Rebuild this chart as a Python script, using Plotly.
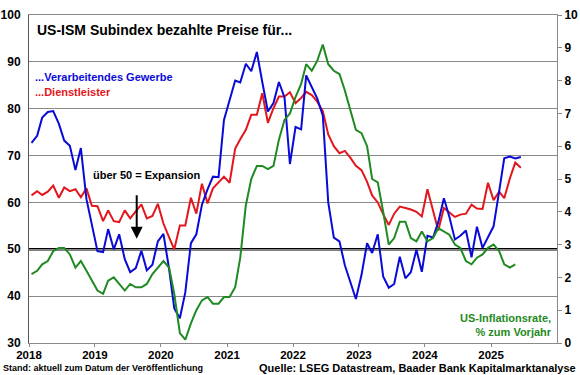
import pandas as pd
import plotly.graph_objects as go

# ---------------- data ----------------
months_ism = pd.date_range("2018-01-01", periods=90, freq="MS") + pd.Timedelta(days=14)
months_cpi = months_ism[:89]

ism_manufacturing = [
    72.7, 74.2, 78.1, 79.3, 79.5, 76.8, 73.2, 72.1, 66.9, 71.6, 60.7, 54.9,
    49.6, 49.4, 54.3, 50.0, 53.2, 47.9, 45.1, 46.0, 49.7, 45.5, 46.7, 51.7,
    53.3, 45.9, 37.4, 35.3, 40.8, 51.3, 53.2, 59.5, 62.8, 65.5, 65.4, 77.6,
    82.1, 86.0, 85.6, 89.6, 88.0, 92.1, 85.7, 79.4, 81.2, 85.7, 82.4, 68.2,
    76.1, 75.6, 87.1, 84.6, 82.2, 78.5, 60.0, 52.5, 51.7, 46.6, 43.0, 39.4,
    44.5, 51.3, 49.2, 53.2, 44.2, 41.8, 42.6, 48.4, 43.8, 45.1, 49.9, 45.2,
    52.9, 52.5, 55.8, 60.9, 57.0, 52.1, 52.9, 54.0, 48.3, 54.8, 50.3, 52.5,
    54.9, 62.4, 69.4, 69.8, 69.4, 69.7,
]

ism_services = [
    61.5, 62.4, 61.6, 62.3, 63.6, 61.0, 63.2, 62.4, 62.8, 61.1, 63.0, 59.3,
    59.2, 56.0, 58.3, 56.0, 55.8, 58.3, 56.6, 58.0, 59.6, 56.6, 57.1, 59.7,
    55.5, 52.6, 50.0, 55.1, 55.1, 61.0, 57.6, 64.0, 59.8, 63.0, 64.3, 65.5,
    64.2, 71.5, 73.5, 75.5, 78.7, 78.7, 83.3, 77.0, 80.1, 82.6, 82.6, 83.5,
    81.2, 82.3, 83.6, 82.9, 81.5, 79.5, 74.5, 72.0, 70.5, 71.0, 69.5, 67.8,
    66.9, 64.4, 61.5, 60.0, 57.5, 55.2, 57.6, 59.1, 58.8, 58.5, 58.0, 57.0,
    62.8, 58.3, 54.0, 58.8, 57.8, 56.9, 57.4, 57.6, 59.5, 58.7, 58.6, 64.2,
    60.5, 62.3, 60.9, 65.1, 68.5, 67.4,
]

us_cpi_yoy = [
    2.1, 2.2, 2.4, 2.5, 2.8, 2.9, 2.9, 2.7, 2.3, 2.5, 2.2, 1.9,
    1.6, 1.5, 1.9, 2.0, 1.8, 1.6, 1.8, 1.7, 1.7, 1.8, 2.1, 2.3,
    2.5, 2.3, 1.5, 0.3, 0.1, 0.6, 1.0, 1.3, 1.4, 1.2, 1.2, 1.4,
    1.4, 1.7, 2.6, 4.2, 5.0, 5.4, 5.4, 5.3, 5.4, 6.2, 6.8, 7.0,
    7.5, 7.9, 8.5, 8.3, 8.6, 9.1, 8.5, 8.3, 8.2, 7.7, 7.1, 6.5,
    6.4, 6.0, 5.0, 4.9, 4.0, 3.0, 3.2, 3.7, 3.7, 3.2, 3.1, 3.4,
    3.1, 3.2, 3.5, 3.4, 3.3, 3.0, 2.9, 2.5, 2.4, 2.6, 2.7, 2.9,
    3.0, 2.8, 2.4, 2.3, 2.4,
]

year_ticks = ["2018", "2019", "2020", "2021", "2022", "2023", "2024", "2025"]
expansion_threshold = 50

# ---------------- styling ----------------
FONT = "Liberation Sans, Arial, sans-serif"
BLUE = "#0a0ad8"
RED = "#e3161c"
GREEN = "#1f8a22"
GRID = "#8a8a8a"

fig = go.Figure()
fig.add_trace(go.Scatter(x=months_cpi, y=us_cpi_yoy, yaxis="y2", mode="lines",
                         line=dict(color=GREEN, width=2), name="US-Inflationsrate"))
fig.add_trace(go.Scatter(x=months_ism, y=ism_services, mode="lines",
                         line=dict(color=RED, width=2), name="Dienstleister"))
fig.add_trace(go.Scatter(x=months_ism, y=ism_manufacturing, mode="lines",
                         line=dict(color=BLUE, width=2), name="Verarbeitendes Gewerbe"))

fig.add_shape(type="line", xref="paper", x0=0, x1=1, yref="y",
              y0=expansion_threshold, y1=expansion_threshold,
              line=dict(color="black", width=2.5), layer="below")

tick_dates = [f"{y}-01-01" for y in year_ticks]

fig.update_layout(
    width=580, height=375,
    margin=dict(l=29, r=23, t=15, b=32, pad=0),
    paper_bgcolor="white", plot_bgcolor="white",
    showlegend=False, hovermode=False,
    font=dict(family=FONT, size=12, color="black"),
    xaxis=dict(
        type="date", range=["2018-01-01", "2026-01-01"], automargin=False,
        tickvals=tick_dates, ticktext=year_ticks,
        ticks="outside", ticklen=3, tickcolor=GRID, ticklabelstandoff=-2,
        showline=True, linecolor=GRID, linewidth=1, mirror=True,
        showgrid=False, zeroline=False,
        tickfont=dict(family=FONT, size=11.5, weight="bold"),
    ),
    yaxis=dict(
        range=[30, 100], dtick=10, tick0=30, automargin=False,
        showgrid=True, gridcolor=GRID, gridwidth=1,
        showline=True, linecolor="#555555", linewidth=1,
        ticks="", ticklabelstandoff=5, zeroline=False,
        tickfont=dict(family=FONT, size=12, weight="bold"),
    ),
    yaxis2=dict(
        range=[0, 10], dtick=1, tick0=0, overlaying="y", side="right",
        automargin=False, showgrid=False, zeroline=False,
        showline=True, linecolor=GRID, linewidth=1,
        ticks="outside", ticklen=4, tickcolor=GRID,
        tickfont=dict(family=FONT, size=12, weight="bold"),
    ),
)

def ann(text, x, y, color="black", size=11, xanchor="left", align="left"):
    fig.add_annotation(text=text, x=x, y=y, xref="paper", yref="paper",
                       xanchor=xanchor, yanchor="middle", align=align,
                       showarrow=False,
                       font=dict(family=FONT, size=size, color=color, weight="bold"))

ann("US-ISM Subindex bezahlte Preise für...", 0.0114, 0.954, size=14)
ann("...Verarbeitendes Gewerbe", 0.0076, 0.811, color=BLUE, size=11)
ann("...Dienstleister", 0.0076, 0.765, color=RED, size=11)
ann("über 50 = Expansion", 0.1168, 0.512, size=11)
ann("US-Inflationsrate,<br>% zum Vorjahr", 0.994, 0.055, color=GREEN, size=11,
    xanchor="right", align="right")
ann("Stand: aktuell zum Datum der Veröffentlichung", -0.053, -0.077, size=9)
ann("Quelle: LSEG Datastream, Baader Bank Kapitalmarktanalyse", 1.0398, -0.076,
    size=11, xanchor="right", align="right")

fig.add_annotation(text="", x=0.204, y=0.318, xref="paper", yref="paper",
                   ax=0, ay=-45, showarrow=True, arrowhead=2, arrowsize=1.2,
                   arrowwidth=2, arrowcolor="black")

fig.write_html(
    "out.html",
    config={"displayModeBar": False, "staticPlot": True},
    post_script="document.body.style.margin='0';document.body.style.padding='0';"
                "document.body.style.overflow='hidden';",
)
